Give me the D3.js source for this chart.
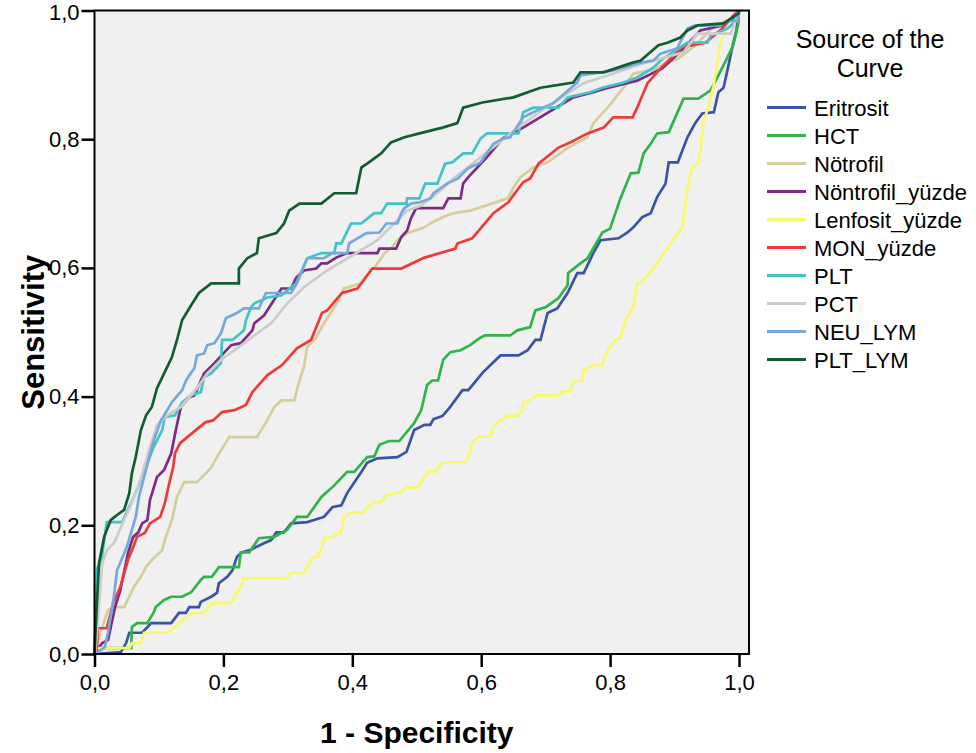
<!DOCTYPE html>
<html>
<head>
<meta charset="utf-8">
<script src="https://cdn.jsdelivr.net/npm/d3@7"></script>
<style>
  html, body { margin: 0; padding: 0; background: #fff; }
  svg text { font-family: "Liberation Sans", Arial, sans-serif; fill: #000; }
</style>
</head>
<body>
<div id="chart"></div>
<script>
// ROC-Kurven, Werte (1 - Spezifität, Sensitivität)
const eritrosit = [[0,0],[0.041,0.003],[0.049,0.017],[0.054,0.033],[0.074,0.033],[0.088,0.048],[0.119,0.048],[0.131,0.064],[0.142,0.064],[0.147,0.073],[0.162,0.073],[0.165,0.081],[0.181,0.089],[0.19,0.095],[0.193,0.11],[0.206,0.12],[0.214,0.13],[0.221,0.151],[0.229,0.158],[0.24,0.161],[0.263,0.172],[0.274,0.177],[0.282,0.189],[0.294,0.189],[0.305,0.203],[0.33,0.205],[0.356,0.213],[0.369,0.228],[0.383,0.231],[0.392,0.25],[0.414,0.283],[0.423,0.297],[0.439,0.304],[0.47,0.306],[0.484,0.314],[0.496,0.348],[0.512,0.356],[0.521,0.356],[0.526,0.365],[0.54,0.37],[0.552,0.384],[0.571,0.41],[0.58,0.41],[0.603,0.438],[0.63,0.464],[0.658,0.464],[0.672,0.472],[0.684,0.488],[0.692,0.488],[0.703,0.53],[0.718,0.537],[0.734,0.561],[0.749,0.592],[0.759,0.592],[0.774,0.623],[0.785,0.643],[0.813,0.646],[0.827,0.655],[0.836,0.663],[0.85,0.679],[0.863,0.685],[0.873,0.71],[0.886,0.731],[0.891,0.764],[0.905,0.764],[0.92,0.803],[0.932,0.825],[0.943,0.84],[0.961,0.842],[0.968,0.873],[0.976,0.88],[0.982,0.907],[0.991,0.949],[0.996,0.969],[1,1]];

const hct = [[0,0],[0.01,0.009],[0.057,0.009],[0.058,0.042],[0.066,0.048],[0.082,0.048],[0.092,0.065],[0.095,0.073],[0.108,0.084],[0.119,0.089],[0.136,0.089],[0.15,0.096],[0.165,0.115],[0.17,0.12],[0.182,0.12],[0.193,0.135],[0.224,0.135],[0.227,0.158],[0.24,0.158],[0.255,0.18],[0.279,0.182],[0.299,0.193],[0.314,0.213],[0.33,0.213],[0.352,0.244],[0.372,0.262],[0.392,0.283],[0.403,0.283],[0.423,0.306],[0.434,0.307],[0.442,0.325],[0.457,0.331],[0.473,0.331],[0.496,0.359],[0.507,0.379],[0.516,0.418],[0.524,0.425],[0.533,0.425],[0.541,0.457],[0.552,0.469],[0.568,0.472],[0.583,0.48],[0.599,0.492],[0.606,0.495],[0.645,0.495],[0.656,0.503],[0.676,0.508],[0.684,0.534],[0.7,0.539],[0.72,0.553],[0.734,0.573],[0.735,0.592],[0.754,0.607],[0.765,0.615],[0.788,0.655],[0.8,0.661],[0.816,0.708],[0.832,0.747],[0.844,0.748],[0.852,0.778],[0.863,0.793],[0.873,0.809],[0.891,0.811],[0.914,0.863],[0.937,0.863],[0.956,0.876],[0.974,0.911],[0.99,0.943],[0.994,0.958],[0.999,0.98],[1,1]];

const notrofil = [[0,0],[0.004,0.014],[0.009,0.033],[0.021,0.068],[0.03,0.073],[0.046,0.073],[0.061,0.104],[0.072,0.12],[0.08,0.135],[0.089,0.146],[0.105,0.161],[0.109,0.177],[0.12,0.208],[0.128,0.244],[0.139,0.267],[0.159,0.267],[0.173,0.281],[0.181,0.29],[0.19,0.306],[0.209,0.337],[0.252,0.337],[0.268,0.363],[0.279,0.384],[0.29,0.394],[0.31,0.394],[0.318,0.425],[0.325,0.446],[0.33,0.477],[0.344,0.492],[0.356,0.514],[0.376,0.545],[0.387,0.568],[0.414,0.576],[0.423,0.589],[0.437,0.604],[0.45,0.623],[0.46,0.63],[0.47,0.643],[0.485,0.654],[0.512,0.663],[0.521,0.669],[0.541,0.679],[0.557,0.685],[0.583,0.689],[0.617,0.7],[0.641,0.708],[0.65,0.725],[0.661,0.741],[0.681,0.756],[0.703,0.764],[0.735,0.787],[0.765,0.803],[0.774,0.825],[0.796,0.849],[0.821,0.88],[0.836,0.902],[0.863,0.907],[0.905,0.925],[0.929,0.943],[0.96,0.974],[0.999,0.992],[1,1]];

const nontrofilYuzde = [[0,0],[0.004,0.006],[0.012,0.017],[0.021,0.022],[0.032,0.073],[0.04,0.099],[0.052,0.157],[0.06,0.182],[0.068,0.189],[0.074,0.203],[0.082,0.208],[0.086,0.239],[0.097,0.275],[0.108,0.286],[0.119,0.312],[0.127,0.352],[0.134,0.384],[0.147,0.399],[0.155,0.402],[0.17,0.436],[0.186,0.452],[0.212,0.48],[0.227,0.483],[0.245,0.503],[0.248,0.514],[0.263,0.526],[0.29,0.568],[0.305,0.568],[0.313,0.585],[0.325,0.596],[0.344,0.599],[0.352,0.607],[0.361,0.607],[0.375,0.616],[0.392,0.623],[0.439,0.623],[0.442,0.63],[0.468,0.63],[0.476,0.648],[0.485,0.658],[0.491,0.677],[0.499,0.693],[0.541,0.693],[0.549,0.708],[0.568,0.708],[0.572,0.731],[0.58,0.741],[0.609,0.772],[0.633,0.801],[0.665,0.818],[0.743,0.865],[0.774,0.873],[0.793,0.879],[0.842,0.891],[0.881,0.91],[0.914,0.941],[0.94,0.969],[0.976,0.977],[0.999,0.995],[1,1]];

const lenfositYuzde = [[0,0],[0.002,0.009],[0.054,0.009],[0.058,0.017],[0.072,0.017],[0.077,0.033],[0.113,0.033],[0.123,0.04],[0.136,0.053],[0.155,0.064],[0.17,0.064],[0.178,0.073],[0.182,0.079],[0.212,0.079],[0.217,0.089],[0.227,0.104],[0.232,0.118],[0.299,0.118],[0.305,0.126],[0.325,0.126],[0.33,0.135],[0.338,0.149],[0.346,0.151],[0.353,0.166],[0.356,0.18],[0.369,0.182],[0.383,0.189],[0.387,0.211],[0.398,0.22],[0.418,0.22],[0.423,0.228],[0.434,0.236],[0.445,0.236],[0.453,0.247],[0.476,0.252],[0.484,0.259],[0.501,0.259],[0.512,0.275],[0.518,0.283],[0.529,0.283],[0.54,0.298],[0.575,0.298],[0.583,0.314],[0.586,0.329],[0.596,0.337],[0.614,0.339],[0.619,0.352],[0.63,0.363],[0.641,0.37],[0.656,0.37],[0.664,0.379],[0.665,0.39],[0.672,0.393],[0.687,0.402],[0.72,0.402],[0.726,0.408],[0.738,0.408],[0.743,0.424],[0.757,0.425],[0.759,0.441],[0.774,0.449],[0.788,0.449],[0.79,0.457],[0.797,0.472],[0.808,0.488],[0.816,0.491],[0.824,0.519],[0.836,0.539],[0.842,0.576],[0.85,0.578],[0.873,0.607],[0.897,0.643],[0.912,0.663],[0.92,0.724],[0.928,0.756],[0.936,0.762],[0.94,0.783],[0.945,0.829],[0.951,0.845],[0.96,0.88],[0.967,0.922],[0.971,0.949],[0.979,0.969],[0.991,0.98],[0.999,0.992],[1,1]];

const monYuzde = [[0,0],[0.004,0.011],[0.005,0.04],[0.019,0.04],[0.029,0.079],[0.04,0.104],[0.052,0.146],[0.06,0.166],[0.066,0.182],[0.078,0.188],[0.086,0.203],[0.102,0.213],[0.109,0.234],[0.117,0.27],[0.122,0.29],[0.125,0.312],[0.133,0.328],[0.144,0.337],[0.172,0.36],[0.184,0.363],[0.198,0.376],[0.217,0.379],[0.235,0.387],[0.245,0.407],[0.268,0.433],[0.291,0.449],[0.314,0.475],[0.336,0.488],[0.353,0.53],[0.361,0.534],[0.384,0.561],[0.408,0.568],[0.431,0.599],[0.476,0.599],[0.512,0.616],[0.56,0.63],[0.563,0.638],[0.586,0.646],[0.619,0.685],[0.642,0.702],[0.665,0.733],[0.676,0.739],[0.689,0.762],[0.72,0.787],[0.738,0.795],[0.765,0.809],[0.79,0.818],[0.805,0.834],[0.835,0.834],[0.842,0.849],[0.858,0.887],[0.883,0.915],[0.912,0.943],[0.948,0.95],[0.974,0.972],[0.991,0.992],[1,1]];

const plt = [[0,0],[0.004,0.13],[0.005,0.135],[0.01,0.141],[0.019,0.205],[0.043,0.205],[0.061,0.244],[0.072,0.27],[0.091,0.32],[0.105,0.348],[0.109,0.368],[0.125,0.371],[0.136,0.391],[0.15,0.402],[0.165,0.407],[0.17,0.43],[0.181,0.436],[0.196,0.452],[0.198,0.488],[0.214,0.488],[0.232,0.503],[0.235,0.519],[0.243,0.539],[0.248,0.545],[0.26,0.55],[0.268,0.554],[0.29,0.557],[0.305,0.57],[0.313,0.576],[0.33,0.615],[0.352,0.623],[0.372,0.623],[0.375,0.638],[0.383,0.638],[0.398,0.669],[0.414,0.669],[0.434,0.685],[0.445,0.685],[0.454,0.7],[0.484,0.7],[0.485,0.708],[0.504,0.708],[0.513,0.731],[0.532,0.731],[0.544,0.762],[0.555,0.764],[0.572,0.778],[0.586,0.778],[0.599,0.801],[0.609,0.809],[0.658,0.809],[0.665,0.842],[0.681,0.849],[0.72,0.849],[0.734,0.865],[0.769,0.873],[0.788,0.88],[0.821,0.888],[0.842,0.896],[0.867,0.911],[0.878,0.922],[0.92,0.95],[0.951,0.95],[0.956,0.961],[0.982,0.972],[0.991,0.98],[1,1]];

const pct = [[0,0],[0.002,0.011],[0.012,0.141],[0.019,0.161],[0.03,0.172],[0.041,0.197],[0.055,0.228],[0.071,0.27],[0.086,0.321],[0.097,0.356],[0.113,0.371],[0.134,0.384],[0.159,0.413],[0.175,0.436],[0.196,0.457],[0.221,0.475],[0.252,0.498],[0.274,0.514],[0.299,0.545],[0.325,0.57],[0.361,0.596],[0.408,0.624],[0.439,0.643],[0.465,0.669],[0.485,0.689],[0.507,0.697],[0.536,0.72],[0.557,0.739],[0.609,0.78],[0.661,0.821],[0.712,0.857],[0.759,0.887],[0.811,0.904],[0.852,0.918],[0.914,0.935],[0.935,0.964],[0.987,0.964],[0.995,0.984],[1,1]];

const neuLym = [[0,0],[0.01,0.006],[0.016,0.011],[0.021,0.033],[0.03,0.089],[0.035,0.13],[0.05,0.166],[0.064,0.213],[0.069,0.244],[0.077,0.275],[0.085,0.306],[0.092,0.332],[0.103,0.363],[0.108,0.371],[0.12,0.391],[0.136,0.41],[0.142,0.425],[0.147,0.433],[0.155,0.444],[0.159,0.464],[0.17,0.467],[0.175,0.48],[0.186,0.483],[0.196,0.498],[0.204,0.522],[0.221,0.53],[0.232,0.537],[0.255,0.537],[0.266,0.561],[0.305,0.561],[0.314,0.576],[0.33,0.615],[0.356,0.615],[0.369,0.623],[0.392,0.623],[0.395,0.638],[0.408,0.646],[0.422,0.654],[0.442,0.655],[0.453,0.669],[0.47,0.669],[0.476,0.685],[0.481,0.693],[0.491,0.7],[0.505,0.702],[0.521,0.708],[0.526,0.716],[0.547,0.731],[0.564,0.739],[0.58,0.755],[0.599,0.764],[0.619,0.793],[0.634,0.801],[0.645,0.803],[0.665,0.834],[0.681,0.842],[0.696,0.849],[0.712,0.856],[0.749,0.888],[0.754,0.899],[0.805,0.907],[0.847,0.919],[0.867,0.922],[0.878,0.933],[0.904,0.941],[0.914,0.961],[0.92,0.972],[0.932,0.977],[0.971,0.977],[0.982,0.984],[0.998,0.984],[1,1]];

const pltLym = [[0,0],[0.003,0.064],[0.007,0.141],[0.015,0.182],[0.025,0.208],[0.035,0.216],[0.046,0.224],[0.054,0.25],[0.058,0.281],[0.064,0.306],[0.072,0.348],[0.08,0.371],[0.089,0.384],[0.097,0.413],[0.108,0.436],[0.12,0.461],[0.128,0.488],[0.136,0.519],[0.15,0.542],[0.162,0.561],[0.181,0.576],[0.224,0.576],[0.224,0.599],[0.237,0.615],[0.252,0.623],[0.255,0.646],[0.282,0.654],[0.294,0.669],[0.302,0.689],[0.318,0.7],[0.352,0.7],[0.372,0.716],[0.406,0.716],[0.414,0.756],[0.423,0.762],[0.445,0.778],[0.46,0.795],[0.481,0.803],[0.512,0.811],[0.54,0.818],[0.563,0.825],[0.572,0.849],[0.602,0.857],[0.65,0.865],[0.692,0.88],[0.743,0.888],[0.754,0.904],[0.79,0.904],[0.835,0.919],[0.847,0.922],[0.875,0.946],[0.889,0.95],[0.909,0.958],[0.92,0.969],[0.936,0.977],[0.976,0.98],[0.982,0.984],[0.999,0.995],[1,1]];

const seriesNames = ["Eritrosit", "HCT", "Nötrofil", "Nöntrofil_yüzde", "Lenfosit_yüzde", "MON_yüzde", "PLT", "PCT", "NEU_LYM", "PLT_LYM"];
const seriesValues = [eritrosit, hct, notrofil, nontrofilYuzde, lenfositYuzde, monYuzde, plt, pct, neuLym, pltLym];
const seriesColors = ["#3a53a4", "#2fb34b", "#d4ce98", "#7c2c83", "#f9f76a", "#ef3a3a", "#41c3c8", "#cccccc", "#75a9d9", "#135b30"];
const tickValues = [0, 0.2, 0.4, 0.6, 0.8, 1.0];

// --- KONFIGURATION ---
const width = 976, height = 753;
const plot = { left: 94.5, right: 739, top: 10.5, bottom: 654, frameRight: 749 };

const svg = d3.select("#chart").append("svg")
  .attr("width", width)
  .attr("height", height);

const x = d3.scaleLinear().domain([0, 1]).range([plot.left, plot.right]);
const y = d3.scaleLinear().domain([0, 1]).range([plot.bottom, plot.top]);
const fmt = d => d3.format(".1f")(d).replace(".", ",");

// Hintergrund des Plotbereichs
svg.append("rect")
  .attr("x", plot.left)
  .attr("y", plot.top)
  .attr("width", plot.frameRight - plot.left)
  .attr("height", plot.bottom - plot.top)
  .attr("fill", "#f0f0f0");

// Kurven (PLT_LYM zuletzt, liegt oben)
const line = d3.line().x(d => x(d[0])).y(d => y(d[1]));
svg.append("g").selectAll("path")
  .data(seriesValues)
  .join("path")
  .attr("d", line)
  .attr("fill", "none")
  .attr("stroke", (d, i) => seriesColors[i])
  .attr("stroke-width", 2.7)
  .attr("stroke-linejoin", "miter");

// Rahmen
svg.append("rect")
  .attr("x", plot.left)
  .attr("y", plot.top)
  .attr("width", plot.frameRight - plot.left)
  .attr("height", plot.bottom - plot.top)
  .attr("fill", "none")
  .attr("stroke", "#000")
  .attr("stroke-width", 2);

// Achsen
const xAxis = svg.append("g")
  .attr("transform", `translate(0,${plot.bottom})`)
  .call(d3.axisBottom(x).tickValues(tickValues).tickFormat(fmt).tickSize(13).tickPadding(7));
const yAxis = svg.append("g")
  .attr("transform", `translate(${plot.left},0)`)
  .call(d3.axisLeft(y).tickValues(tickValues).tickFormat(fmt).tickSize(13).tickPadding(2));

[xAxis, yAxis].forEach(g => {
  g.select(".domain").remove();
  g.selectAll(".tick line").attr("stroke", "#000").attr("stroke-width", 2.5);
  g.selectAll(".tick text")
    .style("font-size", "22px")
    .style("font-family", "'Liberation Sans', Arial, sans-serif")
    .attr("fill", "#000");
});
// oberstes Label nicht am Rand abschneiden
yAxis.selectAll(".tick text").filter(d => d === 1).attr("dy", "0.4em");

// Achsentitel
svg.append("text")
  .attr("x", (plot.left + plot.right) / 2)
  .attr("y", 743)
  .attr("text-anchor", "middle")
  .style("font-size", "30px")
  .style("font-weight", "bold")
  .text("1 - Specificity");

svg.append("text")
  .attr("transform", `translate(44,${(plot.top + plot.bottom) / 2}) rotate(-90)`)
  .attr("text-anchor", "middle")
  .style("font-size", "31px")
  .style("font-weight", "bold")
  .text("Sensitivity");

// Legende
const legend = svg.append("g");
legend.append("text")
  .attr("x", 870).attr("y", 48)
  .attr("text-anchor", "middle")
  .style("font-size", "25px")
  .text("Source of the");
legend.append("text")
  .attr("x", 870).attr("y", 77)
  .attr("text-anchor", "middle")
  .style("font-size", "25px")
  .text("Curve");

const items = legend.selectAll("g.item")
  .data(seriesNames)
  .join("g")
  .attr("class", "item")
  .attr("transform", (d, i) => `translate(0,${107.5 + i * 28})`);

items.append("line")
  .attr("x1", 767).attr("x2", 806)
  .attr("stroke", (d, i) => seriesColors[i])
  .attr("stroke-width", 3);

items.append("text")
  .attr("x", 814).attr("y", 8)
  .style("font-size", "22px")
  .text(d => d);
</script>
</body>
</html>
